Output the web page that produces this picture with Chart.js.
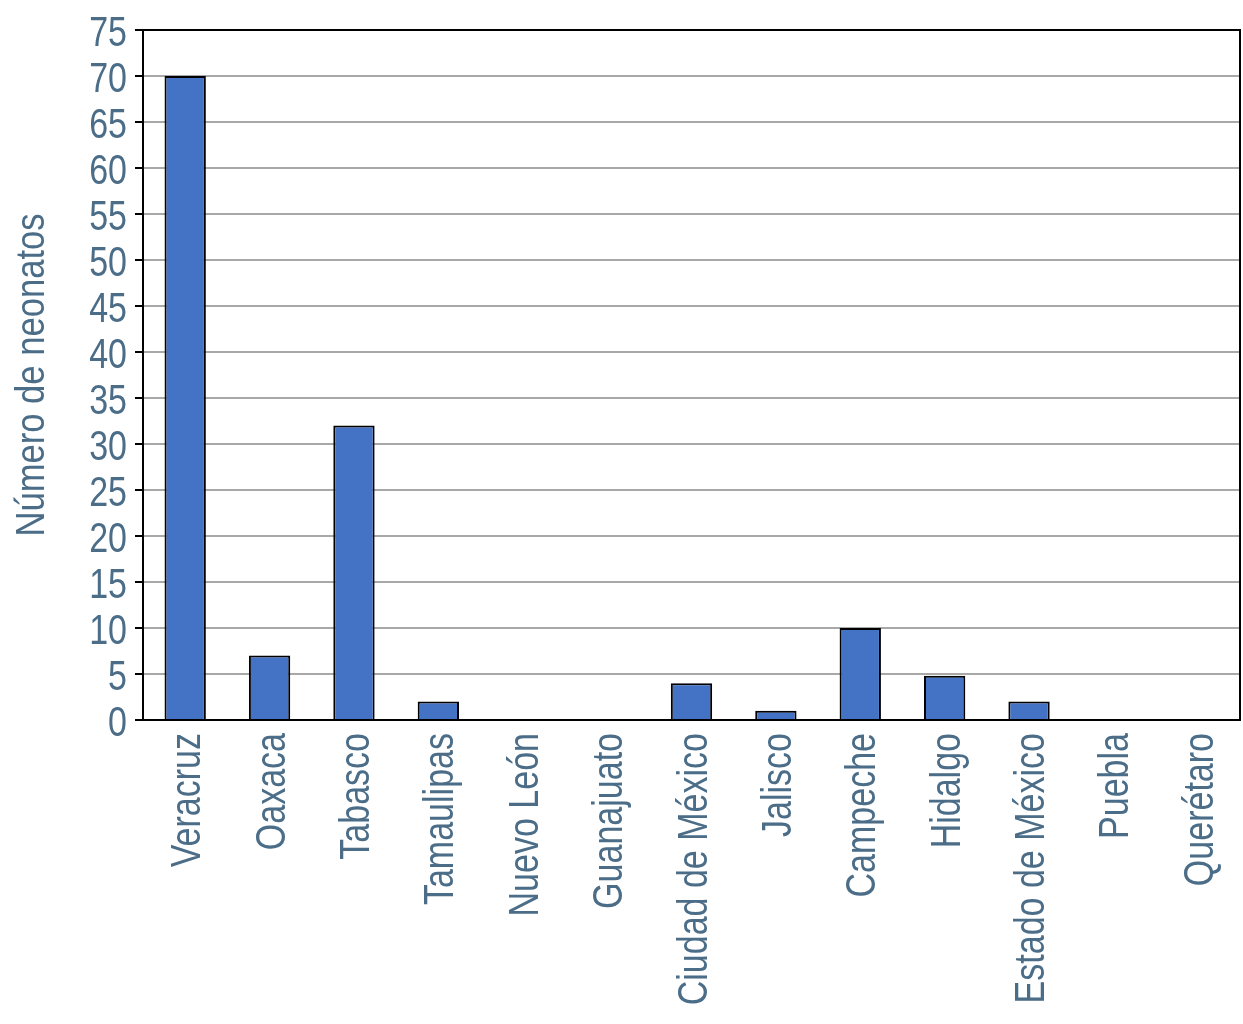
<!DOCTYPE html>
<html><head><meta charset="utf-8">
<script src="https://cdn.jsdelivr.net/npm/chart.js@4"></script>
<style>html,body{margin:0;padding:0;background:#fff}#wrap{width:1243px;height:1024px;position:relative}</style>
</head><body><div id="wrap"><canvas id="c"></canvas></div>
<script>
const categories = ["Veracruz","Oaxaca","Tabasco","Tamaulipas","Nuevo León","Guanajuato","Ciudad de México","Jalisco","Campeche","Hidalgo","Estado de México","Puebla","Querétaro"];
const neonatos = [70, 7, 32, 2, 0, 0, 4, 1, 10, 4.8, 2, 0, 0];
const yTitle = "Número de neonatos";
const yMin = 0, yMax = 75, yStep = 5;

const FONT = "'Liberation Sans', Arial, sans-serif";
const TXT = '#4b6d88';
const SQUEEZE = 0.81;

// Condensed text drawing for axis labels (positions come from the Chart.js scales)
const labelPlugin = {
  id: 'condensedLabels',
  afterDraw(chart) {
    const {ctx, chartArea: a} = chart;
    const xs = chart.scales.x, ys = chart.scales.y;
    ctx.save();
    // frame
    ctx.strokeStyle = '#000'; ctx.lineWidth = 2;
    ctx.strokeRect(a.left, a.top, a.right - a.left, a.bottom - a.top);
    ctx.fillStyle = TXT;
    // y tick labels
    ctx.font = '42px ' + FONT;
    ctx.textAlign = 'right'; ctx.textBaseline = 'alphabetic';
    ys.ticks.forEach((t, i) => {
      const y = ys.getPixelForTick(i);
      ctx.save();
      ctx.translate(127, y + 16);
      ctx.scale(SQUEEZE, 1);
      ctx.fillText(String(t.value), 0, 0);
      ctx.restore();
    });
    // x category labels (rotated)
    xs.ticks.forEach((t, i) => {
      const x = xs.getPixelForTick(i);
      ctx.save();
      ctx.translate(x + 15, a.bottom + 13);
      ctx.rotate(-Math.PI / 2);
      ctx.scale(SQUEEZE, 1);
      ctx.textAlign = 'right'; ctx.textBaseline = 'alphabetic';
      ctx.fillText(xs.getLabelForValue(t.value), 0, 0);
      ctx.restore();
    });
    // y title
    ctx.font = '40px ' + FONT;
    ctx.save();
    ctx.translate(44, (a.top + a.bottom) / 2 - 0);
    ctx.rotate(-Math.PI / 2);
    ctx.scale(0.865, 1);
    ctx.textAlign = 'center'; ctx.textBaseline = 'alphabetic';
    ctx.fillText(ys.options.title.text, 0, 0);
    ctx.restore();
    ctx.restore();
  }
};

new Chart(document.getElementById('c'), {
  type: 'bar',
  data: { labels: categories, datasets: [{ data: neonatos, backgroundColor: '#4472c4', borderColor: '#000', borderWidth: 2, barPercentage: 0.49, categoryPercentage: 1 }] },
  options: {
    responsive: true, maintainAspectRatio: false, animation: false,
    layout: { padding: { top: 30, right: 3, left: 0, bottom: 0 } },
    plugins: { legend: { display: false }, tooltip: { enabled: false } },
    scales: {
      x: {
        grid: { display: false, drawTicks: false },
        border: { display: true, color: '#000', width: 2 },
        ticks: { display: false, autoSkip: false },
        afterFit(s) { s.height = 304; }
      },
      y: {
        min: yMin, max: yMax,
        grid: { color: '#a8a8a8', lineWidth: 2, drawTicks: true, tickLength: 8, tickColor: '#000', tickWidth: 2 },
        border: { display: true, color: '#000', width: 2 },
        ticks: { stepSize: yStep, display: false },
        title: { display: false, text: yTitle },
        afterFit(s) { s.width = 143; }
      }
    }
  },
  plugins: [labelPlugin]
});
</script></body></html>
